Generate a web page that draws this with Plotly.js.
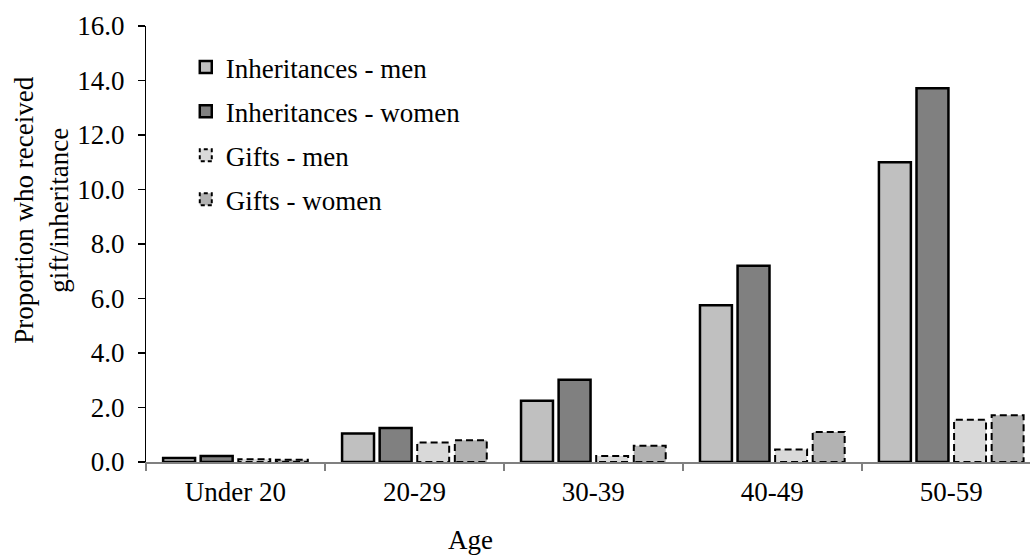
<!DOCTYPE html>
<html>
<head>
<meta charset="utf-8">
<script src="https://cdn.plot.ly/plotly-3.0.1.min.js"></script>
<style>body{margin:0;padding:0;background:#fff;} #chart{width:1030px;height:556px;}</style>
</head>
<body>
<div id="chart"></div>
<script>
const categories = ["Under 20", "20-29", "30-39", "40-49", "50-59"];
const inheritMen = [0.15, 1.05, 2.25, 5.75, 11.0];
const inheritWomen = [0.22, 1.25, 3.02, 7.2, 13.72];
const giftsMen = [0.1, 0.72, 0.22, 0.46, 1.55];
const giftsWomen = [0.08, 0.8, 0.6, 1.1, 1.72];
const seriesNames = ["Inheritances - men", "Inheritances - women", "Gifts - men", "Gifts - women"];
const yTicks = [0, 2, 4, 6, 8, 10, 12, 14, 16];

const FONT = "'Liberation Serif', 'Times New Roman', serif";
const FS = 27;
const colors = ["#c0c0c0", "#808080", "#d9d9d9", "#b2b2b2"];
const values = [inheritMen, inheritWomen, giftsMen, giftsWomen];

const traces = values.map((v, i) => ({
  type: "bar",
  name: seriesNames[i],
  x: categories,
  y: v,
  legendgroup: "g" + i,
  marker: { color: colors[i], line: { color: "#000", width: i < 2 ? 2.5 : 2 } },
  hoverinfo: "skip"
}));

const layout = {
  width: 1030, height: 556,
  margin: { l: 146, r: 0, t: 26, b: 94 },
  paper_bgcolor: "#fff", plot_bgcolor: "#fff",
  font: { family: FONT, size: FS, color: "#000" },
  barmode: "group",
  bargap: 0.16,
  bargroupgap: 0.15,
  showlegend: true,
  legend: {
    x: 0.045, y: 0.961, xanchor: "left", yanchor: "top",
    bgcolor: "rgba(0,0,0,0)",
    font: { family: FONT, size: FS, color: "#000" },
    traceorder: "grouped",
    tracegroupgap: 6,
    itemwidth: 30
  },
  xaxis: {
    type: "category",
    range: [-0.5, 4.44],
    showline: true, linecolor: "#808080", linewidth: 1.5,
    ticks: "outside", tickson: "boundaries", ticklen: 7, tickcolor: "#808080", tickwidth: 1.5,
    ticklabelstandoff: 5,
    showgrid: false, zeroline: false,
    tickfont: { family: FONT, size: FS, color: "#000" },
    fixedrange: true
  },
  yaxis: {
    range: [0, 16],
    tickvals: yTicks,
    ticktext: yTicks.map(t => t.toFixed(1)),
    showline: true, linecolor: "#000", linewidth: 1.2,
    ticks: "outside", ticklen: 7, tickcolor: "#000", tickwidth: 1.2,
    ticklabelstandoff: 8,
    showgrid: false, zeroline: false,
    tickfont: { family: FONT, size: FS, color: "#000" },
    fixedrange: true
  },
  annotations: [
    { text: "Age", xref: "paper", yref: "paper", x: 0.367, y: -0.179, xanchor: "center", yanchor: "middle",
      showarrow: false, font: { family: FONT, size: FS, color: "#000" } },
    { text: "Proportion who received<br>gift/inheritance", xref: "paper", yref: "paper",
      x: -0.118, y: 0.578, xanchor: "center", yanchor: "middle", textangle: -90,
      showarrow: false, font: { family: FONT, size: FS, color: "#000" } }
  ]
};

Plotly.newPlot("chart", traces, layout, { displayModeBar: false, staticPlot: true }).then(gd => {
  const barTraces = gd.querySelectorAll(".barlayer .trace");
  barTraces.forEach((t, i) => {
    if (i >= 2) t.querySelectorAll("path").forEach(p => { p.style.strokeDasharray = "7,4"; });
  });
  const legTraces = gd.querySelectorAll(".legend .traces");
  legTraces.forEach((t, i) => {
    if (i >= 2) t.querySelectorAll(".legendpoints path").forEach(p => { p.style.strokeDasharray = "4,3"; });
  });
});
</script>
</body>
</html>
